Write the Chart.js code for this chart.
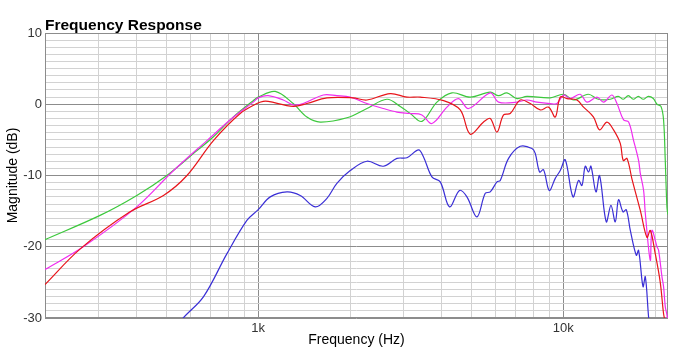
<!DOCTYPE html>
<html>
<head>
<meta charset="utf-8">
<script src="https://cdn.jsdelivr.net/npm/chart.js@4"></script>
<style>
html,body{margin:0;padding:0;background:#fff;}
#wrap{width:700px;height:355px;position:relative;}
</style>
</head>
<body>
<div id="wrap"><canvas id="c" width="700" height="355"></canvas></div>
<script>
const titleText = "Frequency Response";
const xTitle = "Frequency (Hz)";
const yTitle = "Magnitude (dB)";
const xTickValues = [200,300,400,500,600,700,800,900,1000,2000,3000,4000,5000,6000,7000,8000,9000,10000,20000];
const xTickLabels = {1000: "1k", 10000: "10k"};

const greenFreq = [200,303,400,502,630,712,828,963,1000,1137,1302,1444,1597,1953,2272,2642,2922,3151,3441,3854,4316,4955,5764,6137,6538,7050,7603,9066,10024,10810,12078,13026,14260,15150,15733,16339,16968,17621,18299,19003,19735,20293,20907,21325,21600,21878,22050];
const greenDb   = [-19.0,-15.6,-12.8,-10.0,-6.5,-4.6,-1.8,0.5,1.0,1.8,0.1,-1.8,-2.5,-1.9,-0.6,0.7,-0.3,-1.3,-2.4,0.3,1.6,1.0,1.7,1.2,1.6,0.8,1.1,0.9,1.4,0.6,1.4,0.7,0.7,1.1,0.7,1.2,0.7,1.1,0.7,1.1,0.8,0.0,-0.3,-2.2,-7.9,-14.5,-15.5];

const magentaFreq = [200,267,400,528,679,830,963,1000,1078,1208,1302,1404,1634,1811,2003,2272,2570,2850,3151,3441,3711,4157,4537,4892,5764,6137,7050,7603,8200,9066,9535,10024,10544,11367,11959,12898,13556,14445,15002,15769,16377,17007,17662,17890,18341,18578,19290,19540,20293,20542,21066,21325,21600,21878,22050];
const magentaDb   = [-23.2,-20.0,-14.4,-9.3,-5.1,-1.8,0.3,0.9,1.2,0.6,-0.1,0.1,1.3,1.2,1.0,0.1,-0.6,-1.1,-1.3,-1.5,-2.7,-0.4,0.8,-0.6,1.6,0.3,0.3,0.6,0.3,0.1,0.1,1.3,0.8,1.4,0.3,1.0,0.3,1.3,0.1,-2.2,-2.5,-5.1,-7.9,-9.7,-12.1,-15.3,-21.9,-17.7,-20.0,-20.5,-24.2,-25.6,-28.4,-29.6,-31];

const redFreq = [200,261,380,489,584,713,873,990,1038,1078,1302,1444,1680,2049,2272,2709,3073,3397,4052,4596,4955,5480,5764,6063,6373,6702,7228,7795,8406,8950,9415,9777,10283,11088,11657,12570,13152,13910,14620,15380,15733,16181,16801,17890,18816,19290,20033,20797,21325,21600];
const redDb   = [-25.3,-20.3,-15.1,-12.8,-10.0,-5.1,-1.3,0.1,0.4,0.4,-0.3,0.1,0.9,0.9,0.6,1.5,1.0,1.0,0.5,-0.8,-4.2,-2.5,-2.0,-3.9,-1.5,-1.3,0.6,0.1,-0.8,-0.4,-1.8,1.0,0.8,0.6,-0.4,-1.8,-3.6,-2.5,-3.6,-5.5,-7.9,-7.6,-10.5,-14.9,-18.7,-17.7,-21.0,-25.0,-29.4,-30.5];

const blueFreq = [550,568,662,789,918,1000,1095,1242,1373,1538,1680,1811,2003,2272,2570,2850,3073,3355,3483,3711,3952,4239,4571,4833,5212,5550,5764,6063,6216,6618,7228,7896,8095,8363,8618,8997,9415,9777,10153,10760,11224,11515,11806,12106,12326,12800,13152,13836,14336,14810,15184,15697,16096,16590,17355,17662,18257,18578,19046,19200];
const blueDb   = [-31.0,-30.0,-27.0,-21.0,-16.3,-14.8,-13.0,-12.3,-12.8,-14.4,-13.2,-11.1,-9.3,-8.0,-8.7,-7.6,-7.5,-6.4,-7.4,-10.2,-10.9,-14.4,-12.1,-13.0,-15.8,-12.5,-12.3,-10.9,-10.7,-7.6,-5.9,-6.2,-6.9,-9.5,-9.2,-12.1,-10.4,-9.3,-7.8,-13.0,-10.7,-11.4,-8.7,-9.5,-8.7,-12.3,-10.0,-16.5,-14.2,-16.5,-13.4,-15.1,-14.8,-17.7,-21.2,-20.5,-25.6,-24.2,-29.9,-31.0];

function pts(fs, ds){ return fs.map((f,i)=>({x:f, y:ds[i]})); }

const FONT = "'Liberation Sans', Arial, Helvetica, sans-serif";

const framePlugin = {
  id: 'frame',
  beforeDatasetsDraw(chart){
    const a = chart.chartArea, c = chart.ctx;
    c.save();
    c.strokeStyle = '#8c8c8c';
    c.lineWidth = 1;
    c.strokeRect(Math.round(a.left)+0.5, Math.round(a.top)+0.5, Math.round(a.right-a.left)-1, Math.round(a.bottom-a.top)-1);
    c.restore();
  },
  afterDraw(chart){
    const a = chart.chartArea, c = chart.ctx;
    c.save();
    c.fillStyle = '#000';
    c.font = "bold 15.5px " + FONT;
    c.textBaseline = 'alphabetic';
    c.textAlign = 'left';
    c.fillText(titleText, a.left, 30);
    c.restore();
  }
};

const lineOpts = {pointRadius:0, borderWidth:1.2, fill:false, tension:0.35};

new Chart(document.getElementById('c'), {
  type: 'line',
  data: {
    datasets: [
      Object.assign({label:'red', data: pts(redFreq, redDb), borderColor:'#e8141a', order:0}, lineOpts),
      Object.assign({label:'magenta', data: pts(magentaFreq, magentaDb), borderColor:'#f02cf0', order:1}, lineOpts),
      Object.assign({label:'green', data: pts(greenFreq, greenDb), borderColor:'#3cc83c', order:2}, lineOpts),
      Object.assign({label:'blue', data: pts(blueFreq, blueDb), borderColor:'#3a2fd6', order:3}, lineOpts)
    ]
  },
  plugins: [framePlugin],
  options: {
    responsive: false,
    animation: false,
    layout: {padding: {top: 33, right: 32, left: 0, bottom: 0}},
    plugins: {legend:{display:false}, tooltip:{enabled:false}, title:{display:false}},
    scales: {
      x: {
        type: 'logarithmic',
        min: 200, max: 22050,
        afterBuildTicks(scale){ scale.ticks = xTickValues.map(v=>({value:v})); },
        afterFit(scale){ scale.height = 37; },
        border: {display:false},
        grid: {
          drawTicks:false,
          color: ctx => (ctx.tick && (ctx.tick.value===1000 || ctx.tick.value===10000)) ? '#8c8c8c' : '#d2d2d2',
          lineWidth: 1
        },
        ticks: {
          autoSkip:false, maxRotation:0, padding:3,
          color:'#333', font:{family:FONT, size:13},
          callback: (v) => xTickLabels[v] || ''
        },
        title: {display:true, text:xTitle, color:'#000', font:{family:FONT, size:14}, padding:{top:0, bottom:6}}
      },
      y: {
        type: 'linear',
        min: -30, max: 10,
        afterFit(scale){ scale.width = 45; },
        border: {display:false},
        grid: {
          drawTicks:false,
          color: ctx => (ctx.tick && ctx.tick.value % 10 === 0) ? '#8c8c8c' : '#d2d2d2',
          lineWidth: 1
        },
        ticks: {
          stepSize:1, maxTicksLimit:100, autoSkip:false, padding:3,
          color:'#333', font:{family:FONT, size:13},
          callback: (v) => (v % 10 === 0) ? String(v) : ''
        },
        title: {display:true, text:yTitle, color:'#000', font:{family:FONT, size:14}, padding:{top:5, bottom:0}}
      }
    }
  }
});
</script>
</body>
</html>
